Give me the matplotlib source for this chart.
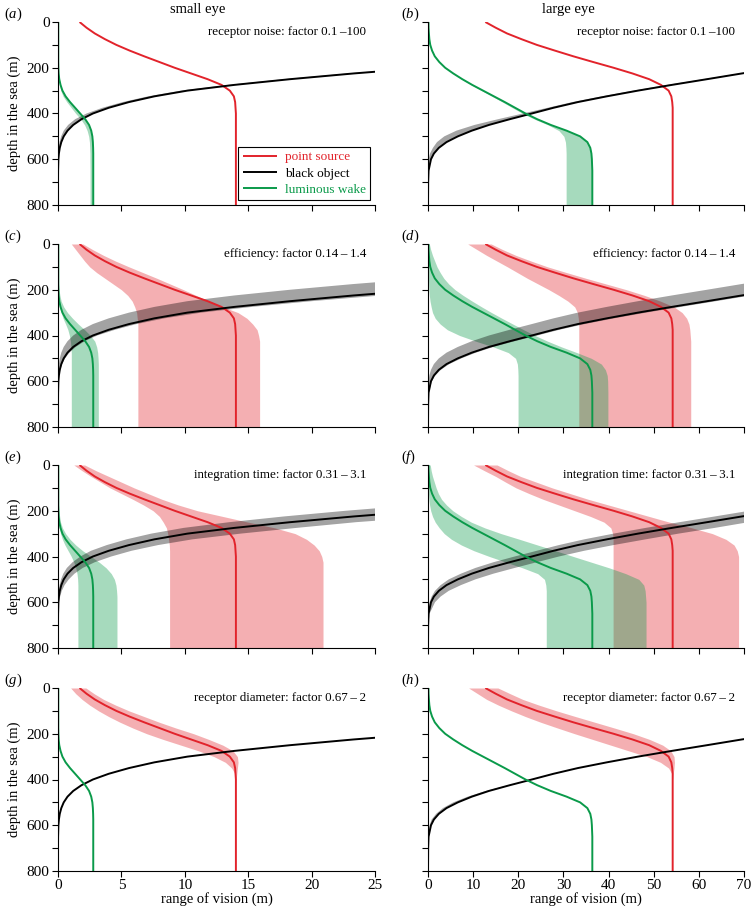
import numpy as np
import matplotlib
matplotlib.use('Agg')
import matplotlib.pyplot as plt

plt.rcParams['font.family'] = ['Liberation Serif', 'DejaVu Serif']
plt.rcParams['mathtext.fontset'] = 'custom'
plt.rcParams['mathtext.it'] = 'Liberation Serif:italic'
plt.rcParams['mathtext.rm'] = 'Liberation Serif'

# profondeurs (m) communes a toutes les courbes
DEPTH = [0, 25, 50, 75, 100, 125, 150, 175, 200, 225, 250, 275, 300, 325, 350, 375,
         400, 425, 450, 475, 500, 525, 550, 575, 600, 650, 700, 800]

# courbes centrales, petit oeil
red_small = [1.7, 2.25, 2.9, 3.7, 4.6, 5.65, 6.8, 8.0, 9.2, 10.5, 11.8, 12.9, 13.55,
             13.87, 13.97, 14.0, 14.03, 14.03, 14.03, 14.03, 14.03, 14.03, 14.03, 14.03,
             14.03, 14.03, 14.03, 14.03]
black_small = [100, 88, 75, 65, 55, 47, 40, 34, 29, 23.3, 18.3, 13.9, 10.2, 7.6, 5.6,
               4.0, 2.75, 1.85, 1.2, 0.75, 0.45, 0.26, 0.14, 0.07, 0.03, 0.005, 0, 0]
green_small = [0.02, 0.02, 0.02, 0.02, 0.02, 0.02, 0.02, 0.02, 0.03, 0.05, 0.1, 0.2,
               0.35, 0.6, 0.95, 1.35, 1.75, 2.15, 2.45, 2.62, 2.71, 2.75, 2.77, 2.78,
               2.78, 2.78, 2.78, 2.78]

# courbes centrales, grand oeil
red_large = [12.7, 15.0, 17.5, 20.7, 24.1, 28.1, 32.2, 36.6, 41.1, 45.3, 49.0, 51.6,
             53.3, 53.9, 54.1, 54.2, 54.2, 54.2, 54.2, 54.2, 54.2, 54.2, 54.2, 54.2,
             54.2, 54.2, 54.2, 54.2]
black_large = [250, 210, 180, 152, 130, 112, 98, 86, 77.5, 69.5, 61.8, 54.0, 46.5, 39.6,
               33.2, 27.8, 23.0, 18.1, 13.5, 9.7, 6.6, 4.1, 2.4, 1.3, 0.66, 0.12, 0.03, 0]
green_large = [0.1, 0.12, 0.2, 0.3, 0.5, 0.9, 1.5, 2.5, 3.8, 5.6, 7.6, 9.8, 12.2, 14.6,
               17.0, 19.3, 21.6, 24.2, 27.2, 30.7, 33.7, 35.3, 35.95, 36.2, 36.3, 36.4,
               36.4, 36.4]

# (a) bruit recepteur, petit oeil
green_a_lo = [0.02, 0.02, 0.02, 0.02, 0.02, 0.02, 0.02, 0.02, 0.02, 0.04, 0.06, 0.12,
              0.22, 0.4, 0.7, 1.05, 1.4, 1.8, 2.1, 2.3, 2.42, 2.48, 2.5, 2.52, 2.52,
              2.53, 2.53, 2.53]
black_a_lo = [100, 88, 75, 65, 55, 47, 40, 34, 28.5, 22.8, 17.8, 13.4, 9.7, 7.1, 5.1,
              3.5, 2.25, 1.35, 0.8, 0.45, 0.25, 0.12, 0.05, 0.02, 0.01, 0, 0, 0]

# (b) bruit recepteur, grand oeil
green_b_lo = [0.1, 0.12, 0.2, 0.3, 0.5, 0.9, 1.5, 2.5, 3.8, 5.6, 7.5, 9.6, 11.9, 14.2,
              16.5, 18.7, 21.0, 23.6, 26.6, 29.0, 30.1, 30.45, 30.55, 30.6, 30.6, 30.6,
              30.6, 30.6]
black_b_lo = [250, 210, 180, 152, 130, 112, 98, 86, 77, 69, 61, 53, 45.5, 38.5, 32,
              26.5, 21.0, 15.5, 10.3, 6.3, 3.6, 2.0, 1.1, 0.45, 0.15, 0.02, 0, 0]

# (c) efficacite, petit oeil
red_c_lo = [1.05, 1.4, 1.75, 2.1, 2.5, 3.05, 3.7, 4.35, 5.0, 5.5, 5.85, 6.05, 6.2, 6.25,
            6.3, 6.3, 6.3, 6.3, 6.3, 6.3, 6.3, 6.3, 6.3, 6.3, 6.3, 6.3, 6.3, 6.3]
red_c_hi = [1.97, 2.75, 3.6, 4.55, 5.6, 6.7, 7.8, 8.85, 9.9, 10.9, 11.9, 13.0, 14.2,
            14.9, 15.35, 15.7, 15.82, 15.9, 15.9, 15.9, 15.9, 15.9, 15.9, 15.9, 15.9,
            15.9, 15.9, 15.9]
green_c_lo = [0, 0, 0, 0, 0, 0, 0, 0, 0, 0.02, 0.05, 0.12, 0.25, 0.4, 0.6, 0.78, 0.9,
              0.98, 1.02, 1.05, 1.05, 1.05, 1.05, 1.05, 1.05, 1.05, 1.05, 1.05]
green_c_hi = [0.05, 0.05, 0.05, 0.05, 0.05, 0.05, 0.05, 0.05, 0.08, 0.15, 0.25, 0.45,
              0.75, 1.15, 1.6, 2.1, 2.55, 2.9, 3.05, 3.13, 3.16, 3.18, 3.18, 3.18, 3.18,
              3.18, 3.18, 3.18]
black_c_lo = [75, 65, 55, 47, 40, 34, 29, 23.3, 18.3, 13.9, 10.2, 7.6, 5.6, 4.0, 2.75,
              1.85, 1.2, 0.75, 0.45, 0.26, 0.14, 0.07, 0.03, 0.015, 0.005, 0, 0, 0]
black_c_hi = [110, 97, 82, 71, 60, 51, 44, 37.5, 32, 25.5, 20, 15.3, 11.3, 8.4, 6.2,
              4.5, 3.1, 2.1, 1.4, 0.9, 0.55, 0.33, 0.18, 0.1, 0.05, 0.01, 0, 0]

# (d) efficacite, grand oeil
red_d_lo = [8.8, 10.9, 13.0, 15.3, 17.6, 19.8, 22.0, 24.4, 26.8, 29.0, 31.0, 32.5, 33.1,
            33.3, 33.4, 33.4, 33.4, 33.4, 33.4, 33.4, 33.4, 33.4, 33.4, 33.4, 33.4,
            33.4, 33.4, 33.4]
red_d_hi = [14.0, 16.6, 19.5, 22.9, 26.5, 30.7, 35.0, 39.5, 44.0, 48.0, 51.5, 54.5,
            56.3, 57.3, 57.8, 58.0, 58.1, 58.2, 58.2, 58.2, 58.2, 58.2, 58.2, 58.2,
            58.2, 58.2, 58.2, 58.2]
green_d_lo = [0, 0, 0.02, 0.03, 0.05, 0.07, 0.1, 0.15, 0.2, 0.3, 0.45, 0.7, 1.0, 1.6,
              2.7, 4.3, 7.0, 10.6, 14.5, 17.8, 19.4, 19.8, 19.9, 19.95, 19.95, 19.95,
              19.95, 19.95]
green_d_hi = [0.3, 0.6, 1.0, 1.5, 2.0, 2.7, 3.5, 4.6, 6.0, 7.8, 9.8, 11.9, 14.1, 16.4,
              18.8, 21.2, 23.7, 26.5, 29.6, 33.0, 36.2, 38.4, 39.3, 39.7, 39.8, 39.85,
              39.85, 39.85]
black_d_lo = [180, 152, 130, 112, 98, 86, 77.5, 69.5, 61.8, 54.0, 46.5, 39.6, 33.2,
              27.8, 23.0, 18.1, 13.5, 9.7, 6.6, 4.1, 2.4, 1.3, 0.66, 0.3, 0.12, 0.03,
              0, 0]
black_d_hi = [255, 215, 185, 156, 133, 115, 100, 88, 79.5, 71.5, 63.8, 56, 48.3, 41.2,
              34.7, 29.1, 24.2, 19.2, 14.5, 10.6, 7.4, 4.7, 2.85, 1.6, 0.85, 0.17,
              0.04, 0]

# (e) temps d'integration, petit oeil
red_e_lo = [1.25, 1.9, 2.6, 3.35, 4.1, 5.0, 5.9, 6.75, 7.5, 8.0, 8.3, 8.55, 8.65, 8.72,
            8.78, 8.8, 8.8, 8.8, 8.8, 8.8, 8.8, 8.8, 8.8, 8.8, 8.8, 8.8, 8.8, 8.8]
red_e_hi = [2.1, 3.0, 4.0, 5.0, 6.0, 7.1, 8.2, 9.5, 11.0, 13.0, 15.0, 17.1, 18.7, 19.6,
            20.2, 20.6, 20.8, 20.9, 20.9, 20.9, 20.9, 20.9, 20.9, 20.9, 20.9, 20.9,
            20.9, 20.9]
green_e_lo = [0, 0, 0, 0, 0, 0, 0, 0, 0, 0.02, 0.05, 0.1, 0.2, 0.35, 0.55, 0.8, 1.05,
              1.25, 1.4, 1.5, 1.55, 1.57, 1.57, 1.57, 1.57, 1.57, 1.57, 1.57]
green_e_hi = [0.05, 0.05, 0.05, 0.05, 0.05, 0.05, 0.05, 0.05, 0.08, 0.13, 0.2, 0.35,
              0.6, 0.95, 1.4, 1.95, 2.6, 3.25, 3.8, 4.2, 4.45, 4.57, 4.62, 4.65, 4.65,
              4.65, 4.65, 4.65]
black_e_lo = [87, 74, 64, 54, 46, 39, 33.3, 28.3, 22.7, 17.8, 13.5, 9.9, 7.35, 5.4,
              3.85, 2.6, 1.77, 1.15, 0.7, 0.42, 0.24, 0.13, 0.065, 0.03, 0.015, 0, 0, 0]
black_e_hi = [115, 102, 89, 77, 66, 56, 48, 41, 35, 29.6, 23.5, 18.8, 14.4, 10.6, 7.9,
              5.8, 4.2, 2.9, 1.95, 1.3, 0.85, 0.52, 0.3, 0.17, 0.08, 0.02, 0, 0]

# (f) temps d'integration, grand oeil
red_f_lo = [10.1, 12.5, 15.0, 17.2, 19.5, 22.4, 25.5, 29.0, 32.5, 36.0, 39.0, 40.5,
            40.9, 41.0, 41.0, 41.0, 41.0, 41.0, 41.0, 41.0, 41.0, 41.0, 41.0, 41.0,
            41.0, 41.0, 41.0, 41.0]
red_f_hi = [15.3, 17.8, 20.5, 24.0, 27.5, 31.5, 35.5, 40.0, 44.5, 49.0, 53.5, 58.5,
            63.0, 66.0, 67.8, 68.5, 68.8, 68.8, 68.8, 68.8, 68.8, 68.8, 68.8, 68.8,
            68.8, 68.8, 68.8, 68.8]
green_f_lo = [0, 0.01, 0.02, 0.03, 0.05, 0.1, 0.2, 0.35, 0.6, 1.0, 1.6, 2.5, 3.6, 5.2,
              7.4, 10.2, 13.6, 17.3, 21.0, 24.3, 25.8, 26.1, 26.2, 26.2, 26.2, 26.2,
              26.2, 26.2]
green_f_hi = [0.5, 0.7, 1.0, 1.4, 1.8, 2.3, 3.0, 4.1, 5.5, 7.4, 9.6, 12.6, 16.2, 20.3,
              24.3, 28.3, 32.2, 36.2, 40.2, 43.8, 46.7, 47.8, 48.1, 48.2, 48.3, 48.3,
              48.3, 48.3]
black_f_lo = [215, 184, 156, 133, 114, 100, 87.5, 78.5, 71.2, 63.5, 55.7, 48.2, 41.1,
              34.6, 29.0, 24.1, 19.2, 14.5, 10.5, 7.3, 4.6, 2.8, 1.55, 0.8, 0.35, 0.06,
              0.01, 0]
black_f_hi = [285, 245, 213, 184, 155, 133, 114, 100, 88, 79, 71, 63.5, 55.5, 48.2,
              41.1, 34.6, 29.0, 24.1, 19.2, 14.5, 10.5, 7.3, 4.6, 2.8, 1.55, 0.35, 0.08, 0]

# (g) diametre recepteur, petit oeil
red_g_lo = [1.0, 1.4, 1.9, 2.5, 3.2, 4.0, 4.9, 5.9, 7.0, 8.3, 9.7, 11.1, 12.3, 13.2,
            13.7, 13.95, 14.03, 14.03, 14.03, 14.03, 14.03, 14.03, 14.03, 14.03, 14.03,
            14.03, 14.03, 14.03]
red_g_hi = [2.2, 2.85, 3.6, 4.55, 5.6, 6.8, 8.0, 9.3, 10.7, 11.9, 13.0, 13.8, 14.15,
            14.2, 14.15, 14.1, 14.05, 14.03, 14.03, 14.03, 14.03, 14.03, 14.03, 14.03,
            14.03, 14.03, 14.03, 14.03]

# (h) diametre recepteur, grand oeil
red_h_lo = [9.0, 11.0, 13.0, 15.6, 18.5, 21.6, 25.0, 28.7, 32.5, 36.5, 40.5, 44.5,
            48.5, 51.5, 53.3, 54.0, 54.2, 54.2, 54.2, 54.2, 54.2, 54.2, 54.2, 54.2,
            54.2, 54.2, 54.2, 54.2]
red_h_hi = [15.5, 18.2, 21.0, 24.6, 28.5, 32.7, 37.0, 41.3, 45.5, 49.1, 52.0, 53.8,
            54.5, 54.6, 54.5, 54.3, 54.2, 54.2, 54.2, 54.2, 54.2, 54.2, 54.2, 54.2,
            54.2, 54.2, 54.2, 54.2]
black_h_lo = [250, 210, 180, 152, 130, 112, 98, 86, 77.5, 69.5, 61.8, 54.0, 46.5, 39.6,
              33.2, 27.8, 23.0, 17.8, 12.8, 8.8, 5.6, 3.3, 1.8, 0.8, 0.35, 0.05, 0, 0]

ROW_TEXTS = ['receptor noise: factor 0.1\u2009\u2013100',
             'efficiency: factor 0.14\u2009\u2013\u20091.4',
             'integration time: factor 0.31\u2009\u2013\u20093.1',
             'receptor diameter: factor 0.67\u2009\u2013\u20092']
LETTERS = ['a', 'b', 'c', 'd', 'e', 'f', 'g', 'h']

ROUGE = '#e2232b'
VERT = '#0a9a4a'
NOIR = '#000000'

# bandes par panneau : (couleur, bas, haut)
bandes = {
    'a': [(VERT, green_a_lo, green_small), (NOIR, black_a_lo, black_small)],
    'b': [(VERT, green_b_lo, green_large), (NOIR, black_b_lo, black_large)],
    'c': [(ROUGE, red_c_lo, red_c_hi), (VERT, green_c_lo, green_c_hi),
          (NOIR, black_c_lo, black_c_hi)],
    'd': [(ROUGE, red_d_lo, red_d_hi), (VERT, green_d_lo, green_d_hi),
          (NOIR, black_d_lo, black_d_hi)],
    'e': [(ROUGE, red_e_lo, red_e_hi), (VERT, green_e_lo, green_e_hi),
          (NOIR, black_e_lo, black_e_hi)],
    'f': [(ROUGE, red_f_lo, red_f_hi), (VERT, green_f_lo, green_f_hi),
          (NOIR, black_f_lo, black_f_hi)],
    'g': [(ROUGE, red_g_lo, red_g_hi)],
    'h': [(ROUGE, red_h_lo, red_h_hi), (NOIR, black_h_lo, black_large)],
}

W, H = 752, 911
fig = plt.figure(figsize=(W / 100, H / 100), dpi=100)

tops = [22, 244, 465, 688]
haut = 183
cols = [(58, 375), (428, 744)]

for i in range(4):
    for j in range(2):
        lettre = LETTERS[2 * i + j]
        g, d = cols[j]
        ax = fig.add_axes([g / W, 1 - (tops[i] + haut) / H, (d - g) / W, haut / H])

        if j == 0:
            courbes = [(ROUGE, red_small, 'point source'), (NOIR, black_small, 'black object'),
                       (VERT, green_small, 'luminous wake')]
            xmax, pas = 25, 5
        else:
            courbes = [(ROUGE, red_large, 'point source'), (NOIR, black_large, 'black object'),
                       (VERT, green_large, 'luminous wake')]
            xmax, pas = 70, 10

        for coul, lo, hi in bandes[lettre]:
            ax.fill_betweenx(DEPTH, lo, hi, color=coul, alpha=0.36, lw=0)

        for coul, x, nom in courbes:
            ax.plot(x, DEPTH, color=coul, lw=1.4, label=nom, solid_capstyle='butt')

        ax.set_xlim(0, xmax)
        ax.set_ylim(800, 0)
        for s in ['top', 'right']:
            ax.spines[s].set_visible(False)
        ax.tick_params(direction='out', length=4, width=0.8, labelsize=11, pad=2)
        ax.set_yticks(range(0, 801, 100))
        ax.set_xticks(range(0, xmax + 1, pas))
        if j == 0:
            ax.set_yticklabels([str(v) if v % 200 == 0 else '' for v in range(0, 801, 100)])
            ax.set_ylabel('depth in the sea (m)', fontsize=10.5, labelpad=4)
        else:
            ax.set_yticklabels([])
        if i == 3:
            ax.set_xlabel('range of vision (m)', fontsize=10.5, labelpad=0)
        else:
            ax.set_xticklabels([])

        ax.annotate(ROW_TEXTS[i], xy=(1, 1), xycoords='axes fraction',
                    xytext=(-9, -10), textcoords='offset pixels',
                    ha='right', va='center', fontsize=9.4)

        lx = 4 / W if j == 0 else 401 / W
        fig.text(lx, 1 - (tops[i] - 8) / H, r'($\mathit{' + lettre + '}$)',
                 fontsize=10.5, va='center', ha='left')

        if lettre == 'a':
            leg = ax.legend(loc='lower right', fontsize=9.5, frameon=True, fancybox=False,
                            edgecolor='black', framealpha=1, handlelength=2.6,
                            handletextpad=0.6, borderaxespad=0.35, labelspacing=0.3,
                            borderpad=0.35)
            leg.get_frame().set_linewidth(0.8)
            for t, (coul, _, _) in zip(leg.get_texts(), courbes):
                t.set_color(coul)

fig.text(198 / W, 1 - 9 / H, 'small eye', ha='center', va='center', fontsize=10.5)
fig.text(568 / W, 1 - 9 / H, 'large eye', ha='center', va='center', fontsize=10.5)

fig.savefig('out.png', dpi=100)
